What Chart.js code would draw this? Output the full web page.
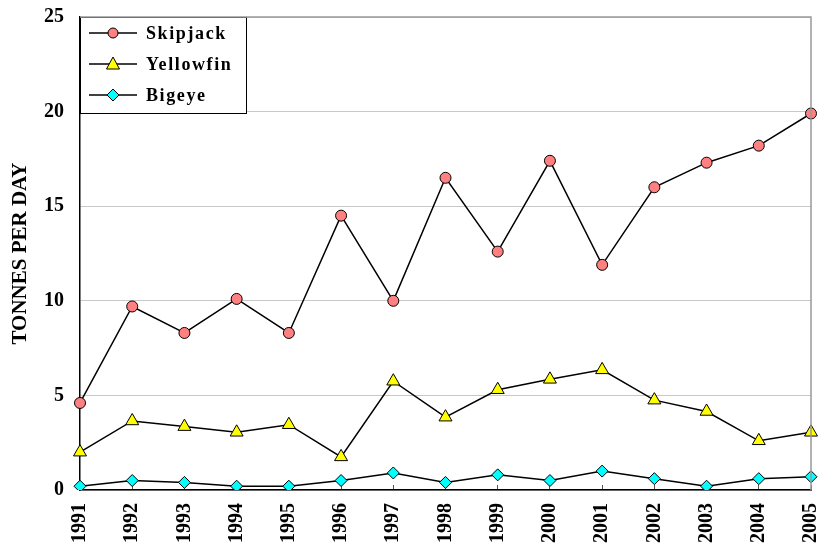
<!DOCTYPE html>
<html>
<head>
<meta charset="utf-8">
<script src="https://cdn.jsdelivr.net/npm/chart.js@4/dist/chart.umd.min.js"></script>
<style>
  html, body { margin: 0; padding: 0; background: #fff; }
  #wrap { width: 820px; height: 553px; }
</style>
</head>
<body>
<div id="wrap"><canvas id="chart"></canvas></div>
<script>
const years = ['1991','1992','1993','1994','1995','1996','1997','1998','1999','2000','2001','2002','2003','2004','2005']
const skipjack = [4.6, 9.7, 8.3, 10.1, 8.3, 14.5, 10.0, 16.5, 12.6, 17.4, 11.9, 16.0, 17.3, 18.2, 19.9]
const yellowfin = [2.0, 3.65, 3.35, 3.05, 3.45, 1.75, 5.75, 3.85, 5.3, 5.85, 6.35, 4.75, 4.15, 2.6, 3.05]
const bigeye = [0.2, 0.5, 0.4, 0.2, 0.2, 0.5, 0.9, 0.4, 0.8, 0.5, 1.0, 0.6, 0.2, 0.6, 0.7]

const serif = '"Liberation Serif", "Times New Roman", serif'

// legend box drawn inside the plot, top-left, like the original
const boxLegend = {
    id: 'boxLegend',
    afterDraw(chart) {
        const { ctx, chartArea } = chart
        const x0 = chartArea.left, y0 = chartArea.top
        const w = 166, h = 96
        ctx.save()
        ctx.fillStyle = '#fff'
        ctx.fillRect(x0, y0, w, h)
        ctx.strokeStyle = '#000'
        ctx.lineWidth = 1
        ctx.strokeRect(x0 + 0.5, y0 + 0.5, w, h)
        chart.data.datasets.forEach((ds, i) => {
            const cy = y0 + 16 + i * 31
            ctx.beginPath()
            ctx.strokeStyle = '#000'
            ctx.lineWidth = 1.5
            ctx.moveTo(x0 + 9, cy)
            ctx.lineTo(x0 + 57, cy)
            ctx.stroke()
            const mx = x0 + 33
            ctx.fillStyle = ds.pointBackgroundColor
            ctx.lineWidth = 1
            ctx.beginPath()
            if (ds.pointStyle === 'circle') {
                ctx.arc(mx, cy, 5, 0, Math.PI * 2)
            } else if (ds.pointStyle === 'triangle') {
                ctx.moveTo(mx, cy - 7)
                ctx.lineTo(mx + 6.5, cy + 5)
                ctx.lineTo(mx - 6.5, cy + 5)
                ctx.closePath()
            } else {
                ctx.moveTo(mx, cy - 6)
                ctx.lineTo(mx + 6, cy)
                ctx.lineTo(mx, cy + 6)
                ctx.lineTo(mx - 6, cy)
                ctx.closePath()
            }
            ctx.fill()
            ctx.stroke()
            ctx.fillStyle = '#000'
            ctx.font = 'bold 18px ' + serif
            ctx.letterSpacing = '1.6px'
            ctx.textBaseline = 'middle'
            ctx.textAlign = 'left'
            ctx.fillText(ds.label, x0 + 66, cy + 1)
            ctx.letterSpacing = '0px'
        })
        ctx.restore()
    }
}

const ctx = document.querySelector('#chart')
new Chart(ctx, {
    type: 'line',
    data: {
        labels: years,
        datasets: [
            {
                label: 'Skipjack',
                data: skipjack,
                borderColor: '#000',
                borderWidth: 1.5,
                pointStyle: 'circle',
                pointRadius: 5.5,
                pointBackgroundColor: '#ff8080',
                pointBorderColor: '#000',
                pointBorderWidth: 1
            },
            {
                label: 'Yellowfin',
                data: yellowfin,
                borderColor: '#000',
                borderWidth: 1.5,
                pointStyle: 'triangle',
                pointRadius: 7.5,
                pointBackgroundColor: '#ffff00',
                pointBorderColor: '#000',
                pointBorderWidth: 1
            },
            {
                label: 'Bigeye',
                data: bigeye,
                borderColor: '#000',
                borderWidth: 1.5,
                pointStyle: 'rectRot',
                pointRadius: 6,
                pointBackgroundColor: '#00ffff',
                pointBorderColor: '#000',
                pointBorderWidth: 1
            }
        ]
    },
    options: {
        responsive: true,
        maintainAspectRatio: false,
        animation: false,
        layout: { padding: { top: 17, right: 9, left: 0, bottom: 0 } },
        plugins: {
            legend: { display: false },
            tooltip: { enabled: false }
        },
        scales: {
            x: {
                offset: false,
                afterFit(scale) {
                    scale.height = 63
                    scale.paddingLeft = 0
                    scale.paddingRight = 0
                },
                grid: { display: true, drawOnChartArea: false, drawTicks: true, tickLength: -5, color: '#555' },
                border: { color: '#000', width: 1.5 },
                ticks: {
                    color: '#000',
                    padding: 18,
                    maxRotation: 90,
                    minRotation: 90,
                    font: { family: serif, size: 20, weight: 'bold' }
                }
            },
            y: {
                min: 0,
                max: 25,
                afterFit(scale) {
                    scale.width = 80
                    scale.paddingTop = 0
                    scale.paddingBottom = 0
                },
                ticks: {
                    stepSize: 5,
                    color: '#000',
                    padding: 16,
                    font: { family: serif, size: 20, weight: 'bold' }
                },
                grid: { color: '#c8c8c8', drawTicks: false },
                border: { color: '#000', width: 1.5 },
                title: {
                    display: true,
                    text: 'TONNES PER DAY',
                    color: '#000',
                    padding: { top: 8, bottom: 0 },
                    font: { family: serif, size: 21, weight: 'bold' }
                }
            }
        }
    },
    plugins: [boxLegend, {
        id: 'frame',
        afterDraw(chart) {
            const { ctx, chartArea } = chart
            ctx.save()
            ctx.strokeStyle = '#999'
            ctx.lineWidth = 1.5
            ctx.beginPath()
            ctx.moveTo(chartArea.left, chartArea.top)
            ctx.lineTo(chartArea.right, chartArea.top)
            ctx.lineTo(chartArea.right, chartArea.bottom)
            ctx.stroke()
            ctx.restore()
        }
    }]
})
</script>
</body>
</html>
